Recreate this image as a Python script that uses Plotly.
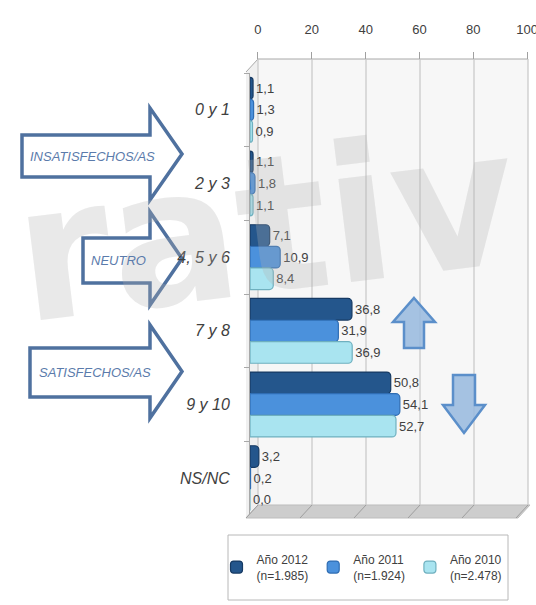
import plotly.graph_objects as go

# ---- data -------------------------------------------------------------
categories = ["0 y 1", "2 y 3", "4, 5 y 6", "7 y 8", "9 y 10", "NS/NC"]
v2012 = [1.1, 1.1, 7.1, 36.8, 50.8, 3.2]
v2011 = [1.3, 1.8, 10.9, 31.9, 54.1, 0.2]
v2010 = [0.9, 1.1, 8.4, 36.9, 52.7, 0.0]
series_names = ["Año 2012<br>(n=1.985)", "Año 2011<br>(n=1.924)", "Año 2010<br>(n=2.478)"]
x_ticks = [0, 20, 40, 60, 80, 100]

W, H = 536, 605
NARROW = "Liberation Sans Narrow, Arial Narrow, Liberation Sans, Arial"
TXT = "#404040"


def px_x(p):
    return p / W


def px_y(p):
    return (H - p) / H


def path(points):
    pts = [f"{px_x(x):.5f},{px_y(y):.5f}" for x, y in points]
    return "M " + " L ".join(pts) + " Z"


def comma(v):
    return f"{v:.1f}".replace(".", ",")


# plot geometry (pixels)
LEFT, RIGHT = 250, 528        # bar axis domain
TOP_WALL, FLOOR = 59, 505     # back wall top / floor line
DEPTH = 12                    # 3-D depth offset
ZERO_BACK = 258               # position of 0 on the back wall
scale_back = (RIGHT - ZERO_BACK) / 100.0
scale_front = 2.77

fig = go.Figure()

fills = ["#24568c", "#4b91dc", "#a9e4f0"]
edges = ["#163a63", "#2f6db3", "#6fb0bf"]
for vals, name, fc, ec in zip([v2012, v2011, v2010], series_names, fills, edges):
    fig.add_trace(go.Bar(
        y=categories, x=vals, orientation="h", name=name,
        marker=dict(color=fc, line=dict(color=ec, width=1.2), cornerradius=4),
        text=[comma(v) for v in vals], textposition="outside",
        textfont=dict(family=NARROW, size=13, color=TXT),
        cliponaxis=False,
    ))

# empty trace so the back-wall scale is drawn
fig.add_trace(go.Scatter(x=[], y=[], xaxis="x2", yaxis="y", showlegend=False, hoverinfo="skip"))

shapes = []
# back wall
shapes.append(dict(type="path", xref="paper", yref="paper", layer="below",
                   path=path([(ZERO_BACK, TOP_WALL), (RIGHT, TOP_WALL), (RIGHT, FLOOR), (ZERO_BACK, FLOOR)]),
                   fillcolor="#f7f7f7", line=dict(width=0)))
# left wall
shapes.append(dict(type="path", xref="paper", yref="paper", layer="below",
                   path=path([(ZERO_BACK, TOP_WALL), (ZERO_BACK, FLOOR), (ZERO_BACK - DEPTH, FLOOR + 13),
                              (ZERO_BACK - DEPTH, TOP_WALL + 13)]),
                   fillcolor="#f0f0f0", line=dict(width=0)))
shapes.append(dict(type="line", xref="paper", yref="paper", layer="below",
                   x0=px_x(ZERO_BACK), y0=px_y(TOP_WALL), x1=px_x(ZERO_BACK - DEPTH), y1=px_y(TOP_WALL + 13),
                   line=dict(color="#a8a8a8", width=1)))
# top edge of the back wall
shapes.append(dict(type="line", xref="paper", yref="paper", layer="below",
                   x0=px_x(ZERO_BACK), y0=px_y(TOP_WALL), x1=px_x(RIGHT), y1=px_y(TOP_WALL),
                   line=dict(color="#a8a8a8", width=1)))
# floor
shapes.append(dict(type="path", xref="paper", yref="paper", layer="below",
                   path=path([(ZERO_BACK, FLOOR), (RIGHT + 2, FLOOR), (RIGHT + 2 - DEPTH, FLOOR + 13),
                              (ZERO_BACK - DEPTH, FLOOR + 13)]),
                   fillcolor="#cdcdcd", line=dict(color="#bdbdbd", width=1)))
# vertical grid lines on the back wall + their floor continuation
for t in x_ticks:
    xp = ZERO_BACK + t * scale_back
    shapes.append(dict(type="line", xref="paper", yref="paper", layer="below",
                       x0=px_x(xp), y0=px_y(TOP_WALL), x1=px_x(xp), y1=px_y(FLOOR),
                       line=dict(color="#c6c6c6", width=1.2)))
    shapes.append(dict(type="line", xref="paper", yref="paper", layer="below",
                       x0=px_x(xp), y0=px_y(FLOOR), x1=px_x(xp - DEPTH), y1=px_y(FLOOR + 13),
                       line=dict(color="#9e9e9e", width=1)))

# outlined block arrows on the left
ARROW_LINE = "#4f719f"
for (bx0, by0, by1, hy0, hy1) in [(22, 135, 177, 108, 200), (83, 238, 283, 212, 305), (30, 348, 397, 325, 418)]:
    bx1, tip = 150, 182
    mid = (hy0 + hy1) / 2
    shapes.append(dict(type="path", xref="paper", yref="paper", layer="below",
                       path=path([(bx0, by0), (bx1, by0), (bx1, hy0), (tip, mid), (bx1, hy1), (bx1, by1), (bx0, by1)]),
                       fillcolor="white", line=dict(color=ARROW_LINE, width=3.5)))

# up / down arrows next to the bars
ARR_FILL = "rgba(150,184,222,0.85)"
ARR_EDGE = "#5b8fca"
shapes.append(dict(type="path", xref="paper", yref="paper", layer="above",
                   path=path([(414, 298), (435, 322), (424, 322), (424, 348), (404, 348), (404, 322), (393, 322)]),
                   fillcolor=ARR_FILL, line=dict(color=ARR_EDGE, width=2.5)))
shapes.append(dict(type="path", xref="paper", yref="paper", layer="above",
                   path=path([(453, 375), (475, 375), (475, 405), (485, 405), (464, 433), (443, 405), (453, 405)]),
                   fillcolor=ARR_FILL, line=dict(color=ARR_EDGE, width=2.5)))

# legend frame
shapes.append(dict(type="rect", xref="paper", yref="paper", layer="below",
                   x0=px_x(228), x1=px_x(508), y0=px_y(600), y1=px_y(535),
                   fillcolor="white", line=dict(color="#b8b8b8", width=1)))

annotations = [
    dict(text="<b>rativ</b>", x=px_x(266), y=px_y(226), xref="paper", yref="paper", showarrow=False,
         xanchor="center", yanchor="middle", textangle=-7,
         font=dict(family="DejaVu Sans", size=190, color="rgba(175,175,175,0.28)")),
]
for label, cx, cy in [("INSATISFECHOS/AS", 92, 156), ("NEUTRO", 118, 260), ("SATISFECHOS/AS", 95, 372)]:
    annotations.append(dict(text=label, x=px_x(cx), y=px_y(cy), xref="paper", yref="paper", showarrow=False,
                            xanchor="center", yanchor="middle",
                            font=dict(family=NARROW, size=13, color="#5b7bab", style="italic")))

fig.update_layout(
    template="none",
    width=W, height=H, autosize=False,
    margin=dict(l=0, r=0, t=0, b=0, autoexpand=False),
    paper_bgcolor="white", plot_bgcolor="rgba(0,0,0,0)",
    barmode="group", bargap=0.12, bargroupgap=0.0,
    xaxis=dict(domain=[px_x(LEFT), px_x(RIGHT)], range=[0, (RIGHT - LEFT) / scale_front],
               visible=False, fixedrange=True, automargin=False),
    xaxis2=dict(domain=[px_x(LEFT), px_x(RIGHT)], overlaying="x", side="top", anchor="free",
                position=px_y(TOP_WALL), range=[-(ZERO_BACK - LEFT) / scale_back, 100.3],
                tickvals=x_ticks, ticks="outside", ticklen=7, tickcolor="#a0a0a0",
                showline=False, showgrid=False, zeroline=False, ticklabelstandoff=13,
                ticklabeloverflow="allow", automargin=False,
                tickfont=dict(family=NARROW, size=13, color=TXT)),
    yaxis=dict(domain=[px_y(515), px_y(73)], categoryorder="array", categoryarray=categories,
               autorange="reversed", showline=True, linecolor="#a8a8a8", linewidth=1,
               tickson="boundaries", ticks="outside", ticklen=5, tickcolor="#a8a8a8",
               showgrid=False, zeroline=False, ticklabelstandoff=16, automargin=False,
               tickfont=dict(family=NARROW, size=16, color=TXT, style="italic")),
    legend=dict(orientation="h", x=px_x(362), y=px_y(567.5), xanchor="center", yanchor="middle",
                bgcolor="rgba(0,0,0,0)", borderwidth=0, itemwidth=30,
                font=dict(family=NARROW, size=12, color=TXT), traceorder="normal"),
    shapes=shapes, annotations=annotations,
)

fig.write_html("out.html")
